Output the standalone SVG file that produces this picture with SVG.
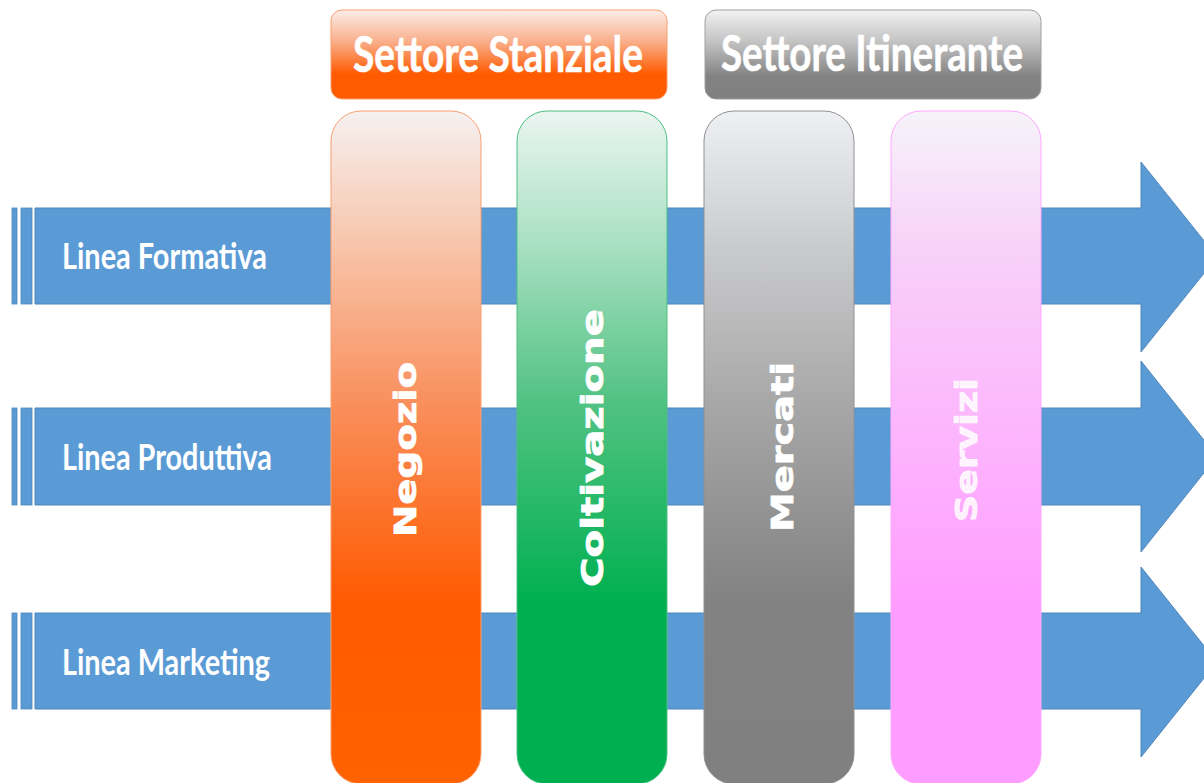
<svg xmlns="http://www.w3.org/2000/svg" width="1204" height="783" viewBox="0 0 1204 783">
<defs>
<linearGradient id="gHdrO" x1="0" y1="0" x2="0" y2="1">
<stop offset="0" stop-color="#fbeee8"/><stop offset="0.35" stop-color="#f9b08c"/><stop offset="0.72" stop-color="#ff5a00"/><stop offset="1" stop-color="#ff5c00"/>
</linearGradient>
<linearGradient id="gHdrG" x1="0" y1="0" x2="0" y2="1">
<stop offset="0" stop-color="#f2f2f2"/><stop offset="0.35" stop-color="#c4c4c4"/><stop offset="0.75" stop-color="#828282"/><stop offset="1" stop-color="#808080"/>
</linearGradient>
<linearGradient id="gNeg" x1="0" y1="0" x2="0" y2="1">
<stop offset="0" stop-color="#f6f1f1"/><stop offset="0.2" stop-color="#f8c4aa"/><stop offset="0.43" stop-color="#f9905e"/><stop offset="0.73" stop-color="#ff5a00"/><stop offset="1" stop-color="#ff6200"/>
</linearGradient>
<linearGradient id="gCol" x1="0" y1="0" x2="0" y2="1">
<stop offset="0" stop-color="#eaf5f1"/><stop offset="0.2" stop-color="#a8e0c2"/><stop offset="0.43" stop-color="#52c283"/><stop offset="0.73" stop-color="#00b050"/><stop offset="1" stop-color="#00b050"/>
</linearGradient>
<linearGradient id="gMer" x1="0" y1="0" x2="0" y2="1">
<stop offset="0" stop-color="#eef0f4"/><stop offset="0.2" stop-color="#cacbcd"/><stop offset="0.43" stop-color="#a8a8a8"/><stop offset="0.73" stop-color="#828282"/><stop offset="1" stop-color="#808080"/>
</linearGradient>
<linearGradient id="gSer" x1="0" y1="0" x2="0" y2="1">
<stop offset="0" stop-color="#f6f3fa"/><stop offset="0.2" stop-color="#f8d2f8"/><stop offset="0.43" stop-color="#fcbafc"/><stop offset="0.73" stop-color="#ff9dff"/><stop offset="1" stop-color="#ff9cff"/>
</linearGradient>
</defs>
<style>
.arrow{fill:#5b9bd5;stroke:#4f86bb;stroke-width:1}
.stripe{fill:#5b9bd5;stroke:#4f86bb;stroke-width:0.8}
.lbl{font-family:Lato,"Open Sans",sans-serif;font-weight:bold;font-size:36px;fill:#ffffff}
.hdr{font-family:Lato,"Open Sans",sans-serif;font-weight:bold;font-size:50px;fill:#ffffff;stroke:#ffffff;stroke-width:0.6}
.col{font-family:"DejaVu Sans",Verdana,sans-serif;font-weight:bold;font-size:30px;fill:#ffffff;stroke:#ffffff;stroke-width:0.8}
</style>
<rect width="1204" height="783" fill="#ffffff"/>
<g id="connectors">
<g id="arrow-formativa">
<rect class="stripe" x="12" y="208" width="5" height="96"/>
<rect class="stripe" x="21" y="208" width="11" height="96"/>
<polygon class="arrow" points="35,208 1141,208 1141,162 1217,257 1141,352 1141,304 35,304"/>
<text class="lbl" x="62" y="269" textLength="205" lengthAdjust="spacingAndGlyphs">Linea Formativa</text>
</g>
<g id="arrow-produttiva">
<rect class="stripe" x="12" y="408" width="5" height="97"/>
<rect class="stripe" x="21" y="408" width="11" height="97"/>
<polygon class="arrow" points="35,408 1141,408 1141,361 1217,456.5 1141,552 1141,505 35,505"/>
<text class="lbl" x="62" y="470" textLength="210" lengthAdjust="spacingAndGlyphs">Linea Produttiva</text>
</g>
<g id="arrow-marketing">
<rect class="stripe" x="12" y="613" width="5" height="96"/>
<rect class="stripe" x="21" y="613" width="11" height="96"/>
<polygon class="arrow" points="35,613 1141,613 1141,567 1217,662 1141,757 1141,709 35,709"/>
<text class="lbl" x="62" y="675" textLength="208" lengthAdjust="spacingAndGlyphs">Linea Marketing</text>
</g>
</g>
<g id="col-negozio">
<rect x="331" y="111" width="150" height="673" rx="30" fill="url(#gNeg)" stroke="#f8a070" stroke-width="1"/>
<text class="col" transform="translate(416,449.5) rotate(-90)" text-anchor="middle" textLength="175" lengthAdjust="spacingAndGlyphs">Negozio</text>
</g>
<g id="col-coltivazione">
<rect x="517" y="111" width="150" height="673" rx="30" fill="url(#gCol)" stroke="#4cc080" stroke-width="1"/>
<text class="col" transform="translate(603,448) rotate(-90)" text-anchor="middle" textLength="278" lengthAdjust="spacingAndGlyphs">Coltivazione</text>
</g>
<g id="col-mercati">
<rect x="704" y="111" width="150" height="673" rx="30" fill="url(#gMer)" stroke="#909090" stroke-width="1"/>
<text class="col" transform="translate(793,447) rotate(-90)" text-anchor="middle" textLength="170" lengthAdjust="spacingAndGlyphs">Mercati</text>
</g>
<g id="col-servizi">
<rect x="891" y="111" width="150" height="673" rx="30" fill="url(#gSer)" stroke="#ffa8ff" stroke-width="1"/>
<text class="col" transform="translate(977,450) rotate(-90)" text-anchor="middle" textLength="144" lengthAdjust="spacingAndGlyphs" fill-opacity="0.85" stroke-opacity="0.85">Servizi</text>
</g>
<g id="hdr-stanziale">
<rect x="331" y="10" width="336" height="89" rx="11" fill="url(#gHdrO)" stroke="#f9a070" stroke-width="1"/>
<text class="hdr" x="498" y="72" text-anchor="middle" textLength="290" lengthAdjust="spacingAndGlyphs">Settore Stanziale</text>
</g>
<g id="hdr-itinerante">
<rect x="705" y="10" width="336" height="89" rx="11" fill="url(#gHdrG)" stroke="#a0a0a0" stroke-width="1"/>
<text class="hdr" x="872" y="71" text-anchor="middle" textLength="302" lengthAdjust="spacingAndGlyphs">Settore Itinerante</text>
</g>
</svg>
